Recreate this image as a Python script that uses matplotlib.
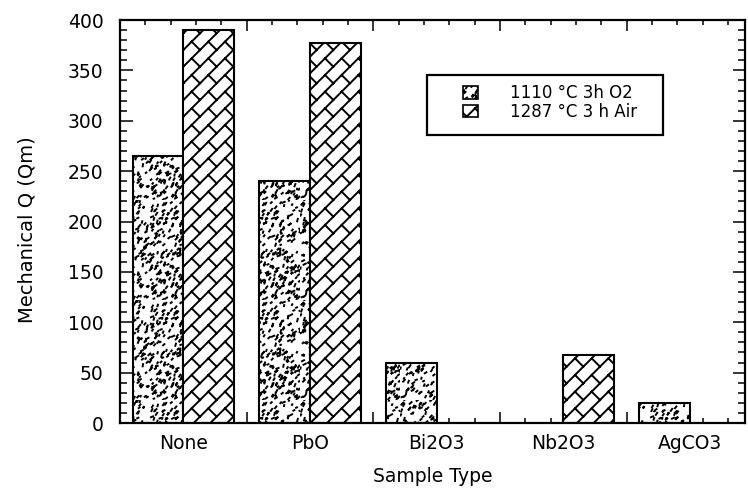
import warnings

import numpy as np
import matplotlib
matplotlib.use("Agg")
import matplotlib.pyplot as plt
from matplotlib import hatch as mhatch
from matplotlib.path import Path
from matplotlib.patches import Patch, Rectangle, Shadow

warnings.filterwarnings("ignore", message="hatch must consist")

# ---- data -------------------------------------------------------------
samples = ["None", "PbO", "Bi2O3", "Nb2O3", "AgCO3"]
q_1110_o2 = [265, 240, 60, np.nan, 20]      # 1110 °C, 3 h, O2
q_1287_air = [390, 377, np.nan, 67, np.nan]  # 1287 °C, 3 h, air
series_labels = ["1110 °C 3h O2", "1287 °C 3 h Air"]
y_ticks = [0, 50, 100, 150, 200, 250, 300, 350, 400]


# ---- custom fill textures ---------------------------------------------
class BrickHatch(mhatch.HatchPatternBase):
    """Running-bond bricks laid along the 45 degree diagonal (hatch 'b')."""
    rows = 6     # diagonal courses per hatch tile (head joints use the same pitch)

    def __init__(self, hatch, density):
        self.num_vertices = 0
        if "b" in hatch:
            self._k = np.arange(-self.rows - 1, self.rows + 1)
            self._j = np.arange(-2, self.rows + 3)
            n = len(self._k) * (1 + len(self._j))
            self.num_vertices = 2 * n

    def set_vertices_and_codes(self, vertices, codes):
        d = 1.0 / self.rows
        segs = []
        for k in self._k:
            c = k * d
            # long bed joint along y = x + c
            segs.append(((-0.5, -0.5 + c), (1.5, 1.5 + c)))
            # short head joints up to the next course
            for j in self._j:
                t = j * d
                segs.append(((t, t + c), (t - d / 2, t + c + d / 2)))
        vertices[:] = np.asarray(segs, dtype=float).reshape(-1, 2)
        codes[0::2] = Path.MOVETO
        codes[1::2] = Path.LINETO


class SpeckleHatch(mhatch.HatchPatternBase):
    """Fine stipple of short dashes (hatch 's'), fixed-seed texture."""
    count = 460

    def __init__(self, hatch, density):
        self.num_vertices = 2 * self.count if "s" in hatch else 0

    def set_vertices_and_codes(self, vertices, codes):
        rng = np.random.default_rng(7)
        x = rng.random(self.count)
        y = rng.random(self.count)
        ang = np.deg2rad(rng.uniform(20, 80, self.count))
        ln = rng.uniform(0.006, 0.026, self.count)
        vertices[0::2, 0] = x
        vertices[0::2, 1] = y
        vertices[1::2, 0] = x + ln * np.cos(ang)
        vertices[1::2, 1] = y + ln * np.sin(ang)
        codes[0::2] = Path.MOVETO
        codes[1::2] = Path.LINETO


mhatch._hatch_types.extend([BrickHatch, SpeckleHatch])

plt.rcParams["font.family"] = ["DejaVu Sans"]
plt.rcParams["hatch.linewidth"] = 1.4

# ---- figure -----------------------------------------------------------
W, H = 748, 494
fig = plt.figure(figsize=(W / 100, H / 100), dpi=100)
ax_l, ax_r, ax_t, ax_b = 120, 745, 20, 423
ax = fig.add_axes([ax_l / W, 1 - ax_b / H, (ax_r - ax_l) / W, (ax_b - ax_t) / H])

x = np.arange(len(samples))
width = 0.4
lo = np.array(q_1110_o2, dtype=float)
hi = np.array(q_1287_air, dtype=float)
m_lo = ~np.isnan(lo)
m_hi = ~np.isnan(hi)

ax.bar(x[m_lo] - width, lo[m_lo], width, align="edge", facecolor="white",
       edgecolor="black", linewidth=1.5, hatch="s", zorder=2)
ax.bar(x[m_hi], hi[m_hi], width, align="edge", facecolor="white",
       edgecolor="black", linewidth=1.5, hatch="b", zorder=2)

x_right = (ax_r - ax_l) / 126.7 - 0.5
ax.set_xlim(-0.5, x_right)
ax.set_ylim(0, 400)

# frame
for sp in ax.spines.values():
    sp.set_linewidth(1.6)

# y ticks on both sides, pointing in
ax.set_yticks(y_ticks)
ax.set_yticks(np.arange(0, 401, 10), minor=True)
ax.tick_params(axis="y", which="both", direction="in", left=True, right=True,
               width=1.1, labelsize=13.5, pad=12)
ax.tick_params(axis="y", which="major", length=9)
ax.tick_params(axis="y", which="minor", length=5)

# x ticks: long marks at group boundaries, short marks every fifth of a group
ax.set_xticks(np.arange(0.5, x_right, 1.0))
ax.set_xticks(np.arange(-0.5, x_right, 0.2), minor=True)
ax.tick_params(axis="x", which="both", direction="in", top=True, bottom=True,
               width=1.1, labelbottom=False)
ax.tick_params(axis="x", which="major", length=8)
ax.tick_params(axis="x", which="minor", length=3.5)

# category names centred under each group
sec = ax.secondary_xaxis("bottom")
sec.set_xticks(x, samples)
sec.tick_params(length=0, labelsize=13.5, pad=8)
sec.spines["bottom"].set_visible(False)

ax.set_xlabel("Sample Type", fontsize=13.5)
ax.xaxis.set_label_coords(0.5, -0.11)
ax.set_ylabel("Mechanical Q (Qm)", fontsize=14)
ax.yaxis.set_label_coords(-0.133, 0.481)

# legend box with drop shadow
box = Rectangle((0.491, 0.7146), 0.378, 0.149, transform=ax.transAxes,
                facecolor="white", edgecolor="black", linewidth=1.6, zorder=5)
ax.add_patch(Shadow(box, 3.5, -3, color="black", alpha=1, zorder=4.9))
ax.add_patch(box)

handles = [Patch(facecolor="white", edgecolor="black", linewidth=1.2, hatch="s"),
           Patch(facecolor="white", edgecolor="black", linewidth=1.2, hatch="b")]
leg = ax.legend(handles, series_labels, loc="center left",
                bbox_to_anchor=(0.549, 0.795), frameon=False, fontsize=12,
                borderpad=0, borderaxespad=0, handlelength=0.9,
                handleheight=0.8, handletextpad=1.9, labelspacing=0.02)
leg.set_zorder(6)

fig.savefig("out.png", dpi=100)
